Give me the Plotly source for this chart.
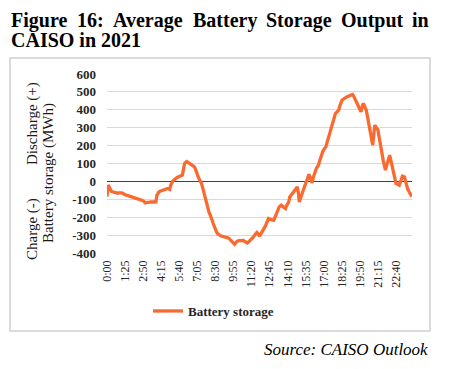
import plotly.graph_objects as go

# 5-minute intervals, 0:00 .. 23:55
times = [f"{m // 60}:{m % 60:02d}" for m in range(0, 24 * 60, 5)]
tick_labels = times[::17]

battery_storage = [
    -85, -20, -30, -49, -55, -58, -60, -63, -66, -68, -66, -64,
    -63, -62, -64, -68, -72, -75, -77, -78, -80, -83, -85, -87,
    -89, -90, -92, -94, -96, -97, -99, -100, -101, -104, -108, -113,
    -120, -118, -116, -115, -116, -115, -114, -115, -116, -115, -114, -77,
    -65, -58, -55, -53, -50, -47, -45, -43, -42, -40, -42, -45,
    -20, -3, 2, 8, 14, 18, 22, 25, 28, 30, 33, 35,
    70, 100, 106, 111, 108, 104, 101, 98, 95, 91, 82, 72,
    50, 35, 22, 10, 0, -12, -35, -60, -87, -110, -132, -155,
    -172, -186, -199, -218, -237, -255, -270, -282, -292, -298, -302, -304,
    -306, -307, -309, -311, -313, -314, -316, -320, -325, -329, -337, -345,
    -351, -342, -337, -333, -331, -330, -332, -330, -329, -333, -338, -341,
    -344, -340, -335, -330, -325, -318, -309, -300, -292, -286, -293, -301,
    -301, -292, -283, -273, -264, -250, -236, -222, -208, -211, -214, -216,
    -216, -217, -200, -185, -171, -155, -143, -138, -133, -138, -144, -148,
    -152, -135, -125, -115, -87, -80, -72, -64, -56, -48, -40, -31,
    -60, -115, -95, -75, -58, -40, -25, -10, 5, 22, 40, 25,
    8, -8, 20, 42, 63, 72, 82, 91, 112, 134, 156, 166,
    178, 188, 193, 215, 237, 259, 278, 296, 314, 336, 358, 380,
    386, 392, 398, 420, 445, 452, 458, 463, 467, 470, 473, 476,
    479, 482, 484, 486, 478, 466, 454, 440, 425, 410, 398, 389,
    415, 436, 425, 410, 398, 365, 333, 300, 267, 235, 203, 260,
    314, 305, 295, 286, 250, 212, 175, 145, 115, 90, 63, 85,
    110, 130, 147, 120, 90, 63, 35, 10, -12, -15, -18, -21,
    -5, 12, 29, 27, 25, 0, -31, -43, -55, -65, -77, -85,
]

y_ticks = [-400, -300, -200, -100, 0, 100, 200, 300, 400, 500, 600]

# the page body has an 8px margin; the figure is sized to fit the window
OFF = 8
W, H = 454 - OFF, 369 - OFF
L, R, T, B = 99, 42, 66, 116
PW, PH = W - L - R, H - T - B


def px(x):  # page pixel -> paper
    return (x - OFF - L) / PW


def py(y):
    return (OFF + T + PH - y) / PH


SERIF = "Liberation Serif, DejaVu Serif, serif"
ORANGE = "#FA6A30"

fig = go.Figure()
fig.add_trace(go.Scatter(
    x=times, y=battery_storage, mode="lines", name="<b>Battery storage</b>",
    line=dict(color=ORANGE, width=3.3),
))

annotations = []
TSIZE = 20
TF = dict(family=SERIF, size=TSIZE, color="#000")
# justified first title line (approximate bold serif word widths in em)
words = ["Figure", "16:", "Average", "Battery", "Storage", "Output", "in"]
em = [2.833, 1.333, 3.554, 3.221, 3.277, 3.112, 0.834]
left, right = 9, 427
widths = [e * TSIZE for e in em]
gap = (right - left - sum(widths)) / (len(words) - 1)
xpos = left
for w, wd in zip(words, widths):
    annotations.append(dict(text=f"<b>{w}</b>", x=px(xpos), y=py(20), xref="paper", yref="paper",
                            xanchor="left", yanchor="middle", showarrow=False, font=TF))
    xpos += wd + gap
annotations.append(dict(text="<b>CAISO in 2021</b>", x=px(9), y=py(40), xref="paper", yref="paper",
                        xanchor="left", yanchor="middle", showarrow=False, font=TF))
# y-axis title pieces
for txt, x0, y0 in [("Discharge (+)", 32, 124), ("Charge (-)", 32, 229),
                    ("Battery storage (MWh)", 48, 173)]:
    annotations.append(dict(text=txt, x=px(x0), y=py(y0), xref="paper", yref="paper",
                            xanchor="center", yanchor="middle", textangle=-90, showarrow=False,
                            font=dict(family=SERIF, size=15, color="#1a1a1a")))
annotations.append(dict(text="<i>Source: CAISO Outlook</i>", x=px(430), y=py(349),
                        xref="paper", yref="paper", xanchor="right", yanchor="middle",
                        showarrow=False, font=dict(family=SERIF, size=17, color="#000")))

fig.update_layout(
    width=W, height=H,
    margin=dict(l=L, r=R, t=T, b=B, pad=0),
    paper_bgcolor="white", plot_bgcolor="white",
    showlegend=True,
    legend=dict(orientation="h", x=px(148), y=py(311), xanchor="left", yanchor="middle",
                font=dict(family=SERIF, size=13, color="#262626"), bgcolor="rgba(0,0,0,0)",
                itemwidth=30),
    xaxis=dict(type="category", tickmode="array", tickvals=tick_labels, ticktext=tick_labels,
               tickangle=-90, tickfont=dict(family=SERIF, size=12, color="#262626"),
               ticklabelstandoff=4,
               showgrid=False, zeroline=False, showline=False, ticks=""),
    yaxis=dict(range=[-400, 600], tickvals=y_ticks, ticktext=[f"<b>{v}</b>" for v in y_ticks],
               tickmode="array",
               tickfont=dict(family=SERIF, size=13, color="#262626"),
               ticklabelstandoff=10,
               showgrid=True, gridcolor="#d9d9d9", gridwidth=1.2,
               zeroline=True, zerolinecolor="#404040", zerolinewidth=1.2,
               showline=False, ticks=""),
    annotations=annotations,
    shapes=[dict(type="rect", xref="paper", yref="paper", x0=px(10), x1=px(430), y0=py(331), y1=py(58),
                 line=dict(color="#d0d0d0", width=1.5), fillcolor="rgba(0,0,0,0)", layer="below")],
)

fig.write_html("out.html")
